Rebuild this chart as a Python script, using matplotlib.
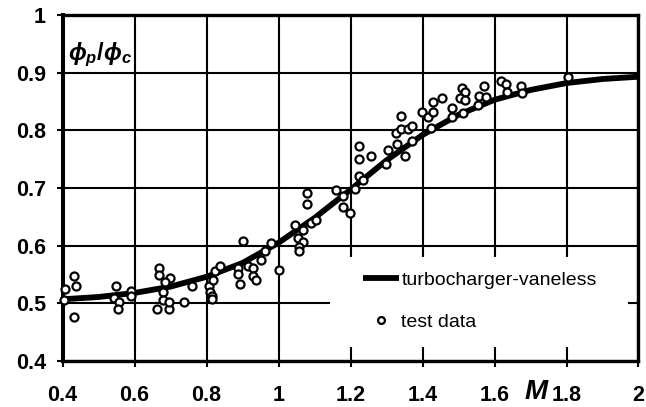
import matplotlib
matplotlib.use('Agg')
import matplotlib.pyplot as plt
from matplotlib.patches import Rectangle

plt.rcParams['font.family'] = ['Liberation Sans', 'DejaVu Sans']
plt.rcParams['mathtext.fontset'] = 'custom'
plt.rcParams['mathtext.it'] = 'Liberation Sans:italic:bold'
plt.rcParams['mathtext.rm'] = 'Liberation Sans:bold'
plt.rcParams['mathtext.bf'] = 'Liberation Sans:bold'

# fitted curve (turbocharger-vaneless)
curve_x = [0.4, 0.5, 0.6, 0.7, 0.8, 0.9, 1.0, 1.1, 1.2, 1.3, 1.4, 1.5, 1.6, 1.7, 1.8, 1.9, 2.0]
curve_y = [0.507, 0.511, 0.518, 0.529, 0.546, 0.570, 0.605, 0.648, 0.697, 0.748, 0.792,
           0.827, 0.853, 0.870, 0.882, 0.889, 0.893]

# test data
test_x = [0.405, 0.408, 0.431, 0.437, 0.433,
          0.549, 0.543, 0.558, 0.554, 0.590, 0.591,
          0.669, 0.669, 0.699, 0.686, 0.678, 0.680, 0.662, 0.697, 0.697, 0.738, 0.761,
          0.807, 0.810, 0.814, 0.816, 0.817, 0.824, 0.837,
          0.888, 0.888, 0.894, 0.901, 0.915, 0.929, 0.928, 0.937, 0.952, 0.963, 0.979, 1.001,
          1.046, 1.053, 1.067, 1.067, 1.058, 1.058, 1.078, 1.078, 1.090, 1.103,
          1.160, 1.178, 1.178, 1.199, 1.213, 1.224, 1.236, 1.224, 1.224, 1.257,
          1.299, 1.304, 1.329, 1.326, 1.340, 1.340, 1.351, 1.361, 1.372, 1.371,
          1.398, 1.416, 1.424, 1.428, 1.429, 1.454, 1.483, 1.483,
          1.510, 1.517, 1.504, 1.518, 1.512, 1.557, 1.554, 1.572, 1.576,
          1.618, 1.633, 1.634, 1.674, 1.676, 1.803]
test_y = [0.506, 0.525, 0.547, 0.530, 0.477,
          0.530, 0.510, 0.502, 0.491, 0.522, 0.513,
          0.562, 0.550, 0.544, 0.537, 0.520, 0.506, 0.491, 0.490, 0.502, 0.503, 0.530,
          0.530, 0.520, 0.512, 0.508, 0.540, 0.556, 0.565,
          0.562, 0.551, 0.533, 0.608, 0.564, 0.561, 0.547, 0.541, 0.576, 0.590, 0.605, 0.558,
          0.635, 0.614, 0.627, 0.607, 0.598, 0.591, 0.692, 0.673, 0.639, 0.644,
          0.697, 0.686, 0.667, 0.657, 0.699, 0.720, 0.714, 0.750, 0.773, 0.756,
          0.741, 0.766, 0.776, 0.796, 0.803, 0.824, 0.756, 0.803, 0.807, 0.782,
          0.832, 0.823, 0.804, 0.849, 0.831, 0.856, 0.839, 0.823,
          0.873, 0.866, 0.856, 0.853, 0.830, 0.859, 0.844, 0.877, 0.857,
          0.885, 0.881, 0.867, 0.877, 0.864, 0.892]

x_ticks = [0.4, 0.6, 0.8, 1.0, 1.2, 1.4, 1.6, 1.8, 2.0]
x_tick_labels = ['0.4', '0.6', '0.8', '1', '1.2', '1.4', '1.6', '1.8', '2']
y_ticks = [0.4, 0.5, 0.6, 0.7, 0.8, 0.9, 1.0]
y_tick_labels = ['0.4', '0.5', '0.6', '0.7', '0.8', '0.9', '1']

fig = plt.figure(figsize=(6.46, 4.07), dpi=100)
ax = fig.add_axes([0.09675, 0.11302, 0.89164, 0.85012])
ax.set_xlim(0.4, 2.0)
ax.set_ylim(0.4, 1.0)

ax.set_axisbelow(True)
ax.grid(True, color='black', lw=1.5)

ax.add_patch(Rectangle((0.464, 0.04), 0.518, 0.26, transform=ax.transAxes,
                       facecolor='white', edgecolor='none', zorder=1))

ax.plot(curve_x, curve_y, color='black', lw=4.2, solid_capstyle='butt',
        solid_joinstyle='round', label='turbocharger-vaneless', zorder=3)
ax.plot(test_x, test_y, 'o', ms=5.8, mfc='white', mec='black', mew=1.6,
        label='test data', zorder=4, clip_on=False)

ax.set_xticks(x_ticks)
ax.set_xticklabels(x_tick_labels, fontweight='bold')
ax.set_yticks(y_ticks)
ax.set_yticklabels(y_tick_labels, fontweight='bold')
ax.tick_params(axis='both', direction='out', length=4.5, width=1.5, labelsize=15.5, color='black')
ax.tick_params(axis='x', pad=12.5)
ax.tick_params(axis='y', pad=7.5)

for side in ['left', 'right', 'top', 'bottom']:
    ax.spines[side].set_linewidth(2.4)
    ax.spines[side].set_color('black')
ax.spines['left'].set_linewidth(2.9)

leg = ax.legend(loc='center left', bbox_to_anchor=(0.522, 0.173), frameon=False,
                borderpad=0, borderaxespad=0, handlelength=1.86, handletextpad=0.1,
                labelspacing=1.25, fontsize=14, markerscale=0.85)

ax.text(0.01, 0.884, r'$\phi_p/\phi_c$', transform=ax.transAxes, fontsize=17,
        ha='left', va='center')
fig.text(536 / 646, 1 - 392 / 407, 'M', fontsize=20, fontweight='bold',
         fontstyle='italic', ha='center', va='center')

fig.savefig('out.png', dpi=100, facecolor='white')
